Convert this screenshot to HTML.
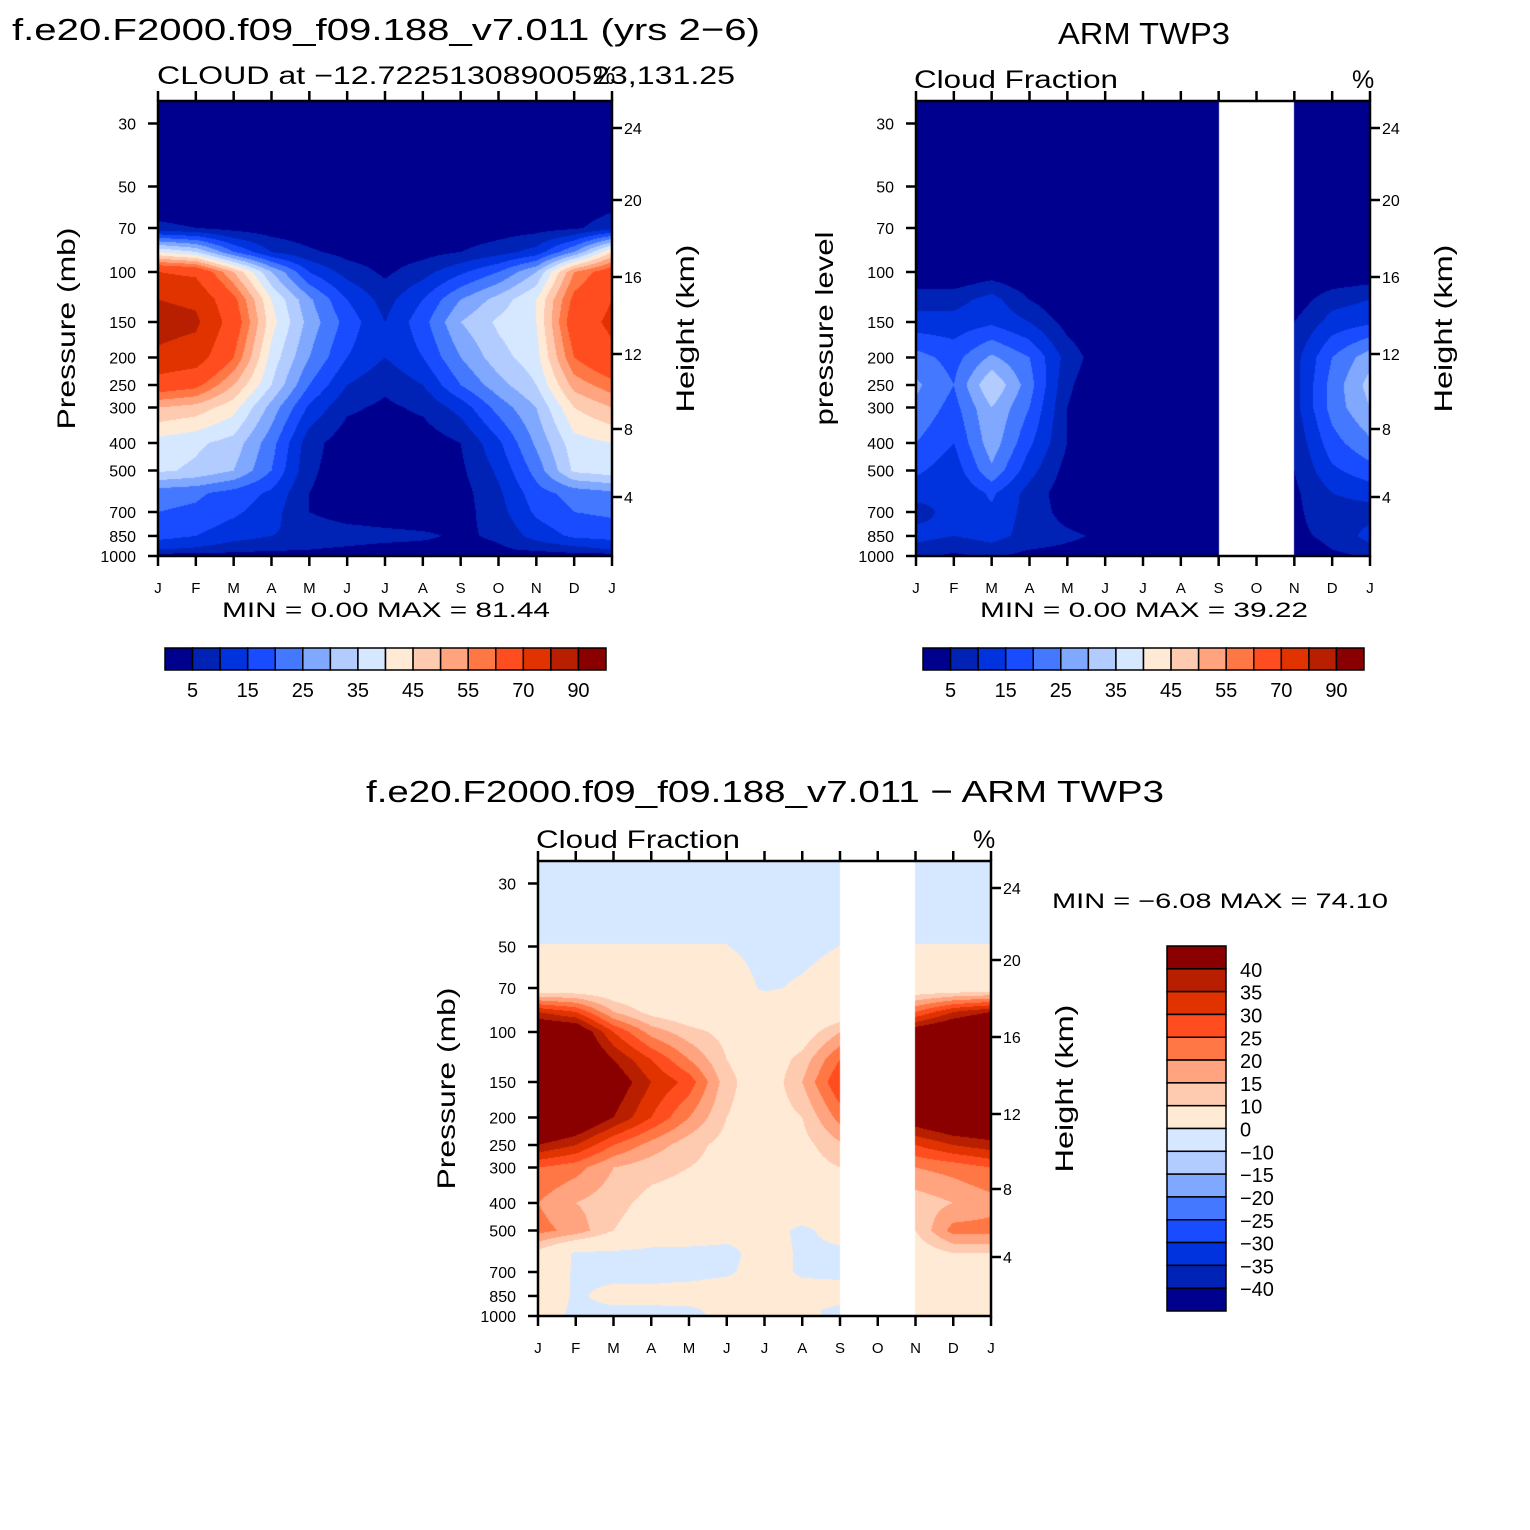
<!DOCTYPE html>
<html><head><meta charset="utf-8"><style>
body{margin:0;background:#fff;width:1530px;height:1530px;position:relative;overflow:hidden;font-family:"Liberation Sans",sans-serif}
canvas{position:absolute}
svg{position:absolute;left:0;top:0}
</style></head><body>
<canvas id="c1" style="left:158px;top:101px" width="454" height="455"></canvas>
<canvas id="c2" style="left:916px;top:101px" width="454" height="455"></canvas>
<canvas id="c3" style="left:538px;top:861px" width="453" height="455"></canvas>
<svg id="s" width="1530" height="1530" font-family="Liberation Sans, sans-serif"></svg>
<script>
const months=["J","F","M","A","M","J","J","A","S","O","N","D","J"];
const pLevels=[25,50,70,85,100,125,150,200,250,300,400,500,600,700,850,950,1000];
const pTicks=[30,50,70,100,150,200,250,300,400,500,700,850,1000];
const hTicks=[24,20,16,12,8,4];
const hTickOffsets=[27,99,176,253,328,396];
const palette=["#00008F","#0022B5","#0033DD","#1A4CFF","#4479FF","#80A8FF","#B3CCFF","#D6E8FF","#FFEAD6","#FFCBB0","#FFA47F","#FF7744","#FF4D1F","#E03300","#B81F00","#8A0000"];
const levels=[5,10,15,20,25,30,35,40,45,50,55,60,70,80,90];
const levelLabels=["5","15","25","35","45","55","70","90"];
const diffLevels=[-40,-35,-30,-25,-20,-15,-10,0,10,15,20,25,30,35,40];
const diffLabels=["40","35","30","25","20","15","10","0","−10","−15","−20","−25","−30","−35","−40"];
const model=[
[0,0,0,0,0,0,0,0,0,0,0,0,0],
[0,0,0,0,0,0,0,0,0,0,0,0,0],
[6,5,3,2,1,1,0,1,1,2,3,4,8],
[40,35,20,10,6,3,2,3,5,8,12,25,45],
[70,68,50,30,15,8,4,8,14,20,30,55,65],
[80,78,62,40,26,15,8,15,25,32,40,62,70],
[84,82,65,42,28,18,10,18,30,36,40,65,72],
[78,75,60,38,25,15,10,15,25,33,38,60,68],
[65,62,50,35,20,10,6,10,20,28,35,52,58],
[50,48,42,28,14,6,4,6,12,22,30,45,50],
[38,36,33,22,7,2,2,2,5,14,26,38,40],
[36,34,30,20,6,2,1,1,4,11,22,36,38],
[22,21,18,14,5,2,1,1,3,9,18,22,24],
[20,19,16,12,5,2,1,1,3,8,16,20,21],
[17,15,12,10,9,8,7,6,4,6,12,16,17],
[10,9,7,6,5,4,3,3,3,4,6,8,10],
[2,2,2,1,1,1,1,1,1,1,1,2,2]];
const N=null;
const obs=[
[0,0,0,0,0,0,0,0,0,N,0,0,0],
[0,0,0,0,0,0,0,0,0,N,0,0,0],
[0,0,0,0,0,0,0,0,0,N,0,0,0],
[0,0,0,0,0,0,0,0,0,N,0,0,0],
[0,0,2,0,0,0,0,0,0,N,0,0,1],
[8,8,12,5,0,0,0,0,0,N,2,8,10],
[12,12,14,10,3,0,0,0,0,N,5,12,14],
[22,18,26,20,8,1,0,0,0,N,8,20,28],
[26,20,35,22,6,0,0,0,0,N,8,22,32],
[24,18,30,20,5,0,0,0,0,N,8,22,30],
[20,15,28,16,5,0,0,0,0,N,6,18,24],
[16,12,24,12,3,0,0,0,0,N,5,14,18],
[12,10,16,8,2,0,0,0,0,N,4,10,12],
[8,12,14,8,3,1,0,0,0,N,4,8,8],
[12,10,12,8,6,4,2,0,0,N,4,6,12],
[8,6,8,5,4,3,2,1,0,N,3,5,8],
[6,4,6,3,2,1,0,0,0,N,2,3,6]];
const diff=[
[-2,-2,-2,-2,-2,-2,-2,-2,-2,N,-2,-2,-2],
[0.05,0.05,0.05,0.05,0.05,0.05,-1,-1,0.05,N,0.05,0.05,0.05],
[4,4,4,3,3,2,-0.5,0.5,2,N,4,4,4],
[35,30,15,8,5,4,3,3,5,N,25,35,40],
[50,48,30,18,12,8,4,6,15,N,45,50,55],
[55,52,40,30,20,10,5,12,25,N,50,55,55],
[55,55,45,35,28,12,5,15,30,N,50,55,55],
[55,50,40,30,20,10,6,10,22,N,45,50,50],
[40,35,25,18,12,8,6,8,14,N,30,35,38],
[25,22,15,12,10,8,6,7,10,N,20,22,25],
[20,15,12,8,7,6,5,4,6,N,12,15,18],
[22,18,10,6,5,3,2,-1,2,N,10,22,22],
[8,-1,-1,-2,-2,-2,3,-1,-1,N,6,10,10],
[6,-1,-2,-2,-2,-1,3,-1,-1,N,5,6,6],
[5,-1,2,2,3,4,5,3,2,N,4,5,5],
[3,-1,-1,-1,-1,2,3,1,-1,N,3,3,3],
[2,-1,-1,-1,-1,1,2,1,-1,N,2,2,2]];

const LT=Math.log10(25),LR=Math.log10(40);
function yOf(p,top,h){return top+h*(Math.log10(p)-LT)/LR;}
function colorIdx(v,lv){let i=0;while(i<lv.length&&v>=lv[i])i++;return i;}
function hex(c){return [parseInt(c.substr(1,2),16),parseInt(c.substr(3,2),16),parseInt(c.substr(5,2),16)];}
const rgb=palette.map(hex);
function drawField(id,grid,lv){
 const cv=document.getElementById(id),ctx=cv.getContext('2d');
 const W=cv.width,H=cv.height,img=ctx.createImageData(W,H);
 const lp=pLevels.map(p=>Math.log10(p));
 for(let py=0;py<H;py++){
  const l=LT+(py+0.5)/H*LR;
  let r=0;while(r<lp.length-2&&l>lp[r+1])r++;
  let fy=(l-lp[r])/(lp[r+1]-lp[r]);fy=Math.max(0,Math.min(1,fy));
  for(let px=0;px<W;px++){
   const m=(px+0.5)/W*12;let c=Math.min(11,Math.floor(m));const fx=m-c;
   const a=grid[r][c],b=grid[r][c+1],d=grid[r+1][c],e=grid[r+1][c+1];
   const k=(py*W+px)*4;
   if(a===null||b===null||d===null||e===null){img.data[k]=255;img.data[k+1]=255;img.data[k+2]=255;img.data[k+3]=255;continue;}
   const v=(a*(1-fx)+b*fx)*(1-fy)+(d*(1-fx)+e*fx)*fy;
   const col=rgb[colorIdx(v,lv)];
   img.data[k]=col[0];img.data[k+1]=col[1];img.data[k+2]=col[2];img.data[k+3]=255;
  }
 }
 ctx.putImageData(img,0,0);
}
drawField('c1',model,levels);
drawField('c2',obs,levels);
drawField('c3',diff,diffLevels);

const S=document.getElementById('s'),NS="http://www.w3.org/2000/svg";
function el(tag,attrs,txt){const e=document.createElementNS(NS,tag);for(const k in attrs)e.setAttribute(k,attrs[k]);if(txt!==undefined)e.textContent=txt;S.appendChild(e);return e;}
function txt(x,y,s,size,anchor,name,rot,len){const t=el('text',{x:x,y:y,'font-size':size,'text-anchor':anchor||'start',fill:'#000'},s);
 
 
 if(len){t.setAttribute('textLength',len);t.setAttribute('lengthAdjust','spacingAndGlyphs');}
 if(rot)t.setAttribute('transform','rotate(-90 '+x+' '+y+')');return t;}
function axes(L,T,W,H,leftTitle,leftLen,prefix){
 const box=el('rect',{x:L,y:T,width:W,height:H,fill:'none',stroke:'#000','stroke-width':2.5});
 
 
 months.forEach((m,i)=>{const x=L+W*i/12;
  el('line',{x1:x,y1:T+H,x2:x,y2:T+H+10,stroke:'#000','stroke-width':2.5});
  el('line',{x1:x,y1:T,x2:x,y2:T-10,stroke:'#000','stroke-width':2.5});
  txt(x,T+H+37,m,15,'middle',prefix+'-month-label');});
 pTicks.forEach(p=>{const y=yOf(p,T,H);
  el('line',{x1:L,y1:y,x2:L-10,y2:y,stroke:'#000','stroke-width':2.5});
  txt(L-22,y+6,String(p),16,'end',prefix+'-pressure-tick');});
 hTicks.forEach((h,i)=>{const y=T+hTickOffsets[i];
  el('line',{x1:L+W,y1:y,x2:L+W+10,y2:y,stroke:'#000','stroke-width':2.5});
  txt(L+W+12,y+6,String(h),16,'start',prefix+'-height-tick');});
 txt(L-83,T+H/2,leftTitle,25,'middle',prefix+'-y-axis-title',true,leftLen);
 txt(L+W+82,T+H/2,'Height  (km)',25,'middle',prefix+'-height-axis-title',true,168);
}
axes(158,101,454,455,'Pressure  (mb)',202,'model');
axes(916,101,454,455,'pressure  level',194,'obs');
axes(538,861,453,455,'Pressure  (mb)',202,'diff');

txt(12,40,'f.e20.F2000.f09_f09.188_v7.011 (yrs 2−6)',31,'start','model-title',false,748);
txt(157,84,'CLOUD at −12.72251308900523,131.25',25,'start','model-subtitle',false,578);
txt(593,84,'%',25,'start','model-units');
txt(1144,44,'ARM  TWP3',31,'middle','obs-title',false,172);
txt(914,88,'Cloud  Fraction',25,'start','obs-subtitle',false,204);
txt(1352,88,'%',25,'start','obs-units');
txt(765,802,'f.e20.F2000.f09_f09.188_v7.011 − ARM  TWP3',31,'middle','diff-title',false,798);
txt(536,848,'Cloud  Fraction',25,'start','diff-subtitle',false,204);
txt(973,848,'%',25,'start','diff-units');
txt(386,617,'MIN =     0.00  MAX =    81.44',21,'middle','model-minmax',false,328);
txt(1144,617,'MIN =     0.00  MAX =    39.22',21,'middle','obs-minmax',false,328);
txt(1052,908,'MIN =   −6.08  MAX =    74.10',21,'start','diff-minmax',false,336);

function hbar(L,prefix){const T=648,W=441,Hh=22,bw=W/16;
 palette.forEach((c,i)=>{const r=el('rect',{x:L+i*bw,y:T,width:bw,height:Hh,fill:c,stroke:'#000','stroke-width':1.5});
  
  });
 levelLabels.forEach((s,i)=>txt(L+bw*(2*i+1),T+Hh+27,s,20,'middle',prefix+'-colorbar-label'));
}
hbar(165,'model');hbar(923,'obs');
(function(){const L=1167,T=946,W=59,H=365,bh=H/16;
 for(let i=0;i<16;i++){const r=el('rect',{x:L,y:T+i*bh,width:W,height:bh,fill:palette[15-i],stroke:'#000','stroke-width':1.5});
  
  }
 diffLabels.forEach((s,i)=>txt(L+W+14,T+bh*(i+1)+8,s,20,'start','diff-colorbar-label'));
})();
</script>
</body></html>
